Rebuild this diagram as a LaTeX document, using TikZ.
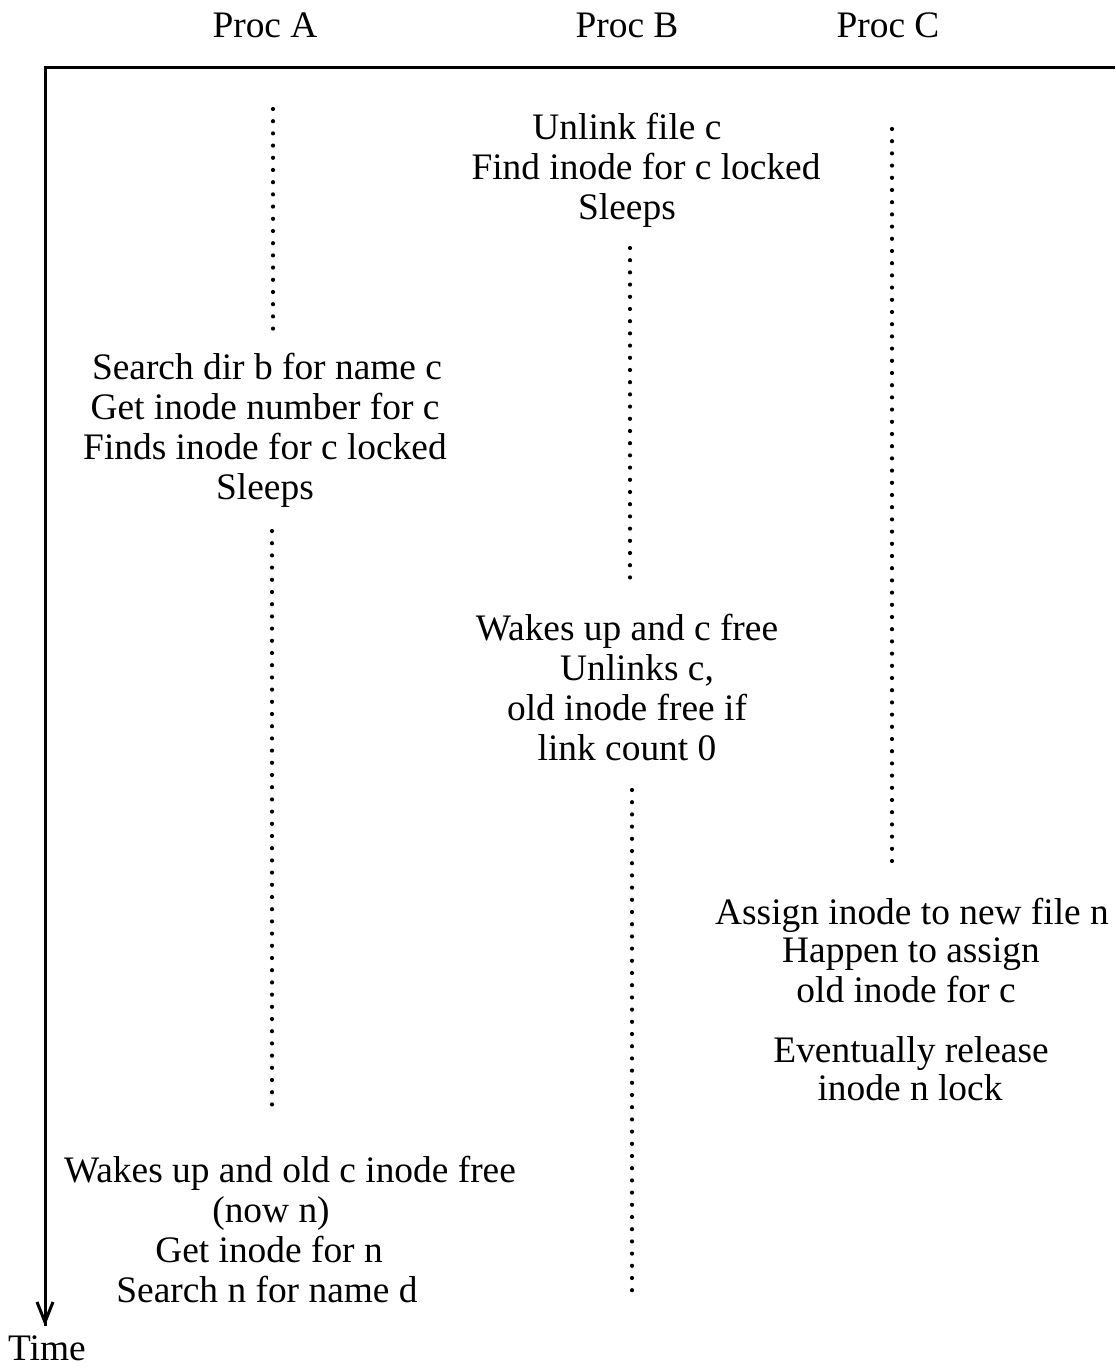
\documentclass[tikz,border=0pt]{standalone}
\usepackage{fontspec}
\setmainfont{Liberation Serif}
\usetikzlibrary{arrows.meta}
\begin{document}
\begin{tikzpicture}[x=0.5pt,y=-0.5pt,
  lbl/.style={font=\fontsize{18.7}{20}\selectfont, inner sep=0pt, text height=0.68em, text depth=0.2em, anchor=center, yshift=-4pt},
  axis/.style={line width=1.5pt},
  life/.style={line width=2.1pt, line cap=round, dash pattern=on 0pt off 6.1pt}]
\useasboundingbox (0,0) rectangle (1115,1368);
% headers
\node[lbl] (hA) at (265,25) {Proc A};
\node[lbl] (hB) at (627,25) {Proc B};
\node[lbl] (hC) at (888,25) {Proc C};
% axes
\coordinate (origin) at (45,68);
\coordinate (right) at (1115,68);
\coordinate (tip) at (45,1326);
\draw[axis] (right) -- (origin) -- (tip);
\draw[axis, -{Straight Barb[length=10pt,width=8pt,line width=1.5pt]}] (45,1290) -- (tip);
\node[lbl] (time) at (47,1348) {Time};
% lifelines
\coordinate (a1s) at (273,109); \coordinate (a1e) at (273,329);
\coordinate (b1s) at (630,248); \coordinate (b1e) at (630,589);
\coordinate (c1s) at (892,129); \coordinate (c1e) at (892,872);
\coordinate (a2s) at (272,531); \coordinate (a2e) at (272,1110);
\coordinate (b2s) at (632,790); \coordinate (b2e) at (632,1295);
\draw[life] (a1s) -- (a1e);
\draw[life] (b1s) -- (b1e);
\draw[life] (c1s) -- (c1e);
\draw[life] (a2s) -- (a2e);
\draw[life] (b2s) -- (b2e);
% Proc B first block
\node[lbl] (b11) at (627,127) {Unlink file c};
\node[lbl] (b12) at (646,167) {Find inode for c locked};
\node[lbl] (b13) at (627,207) {Sleeps};
% Proc A first block
\node[lbl] (a11) at (267,367) {Search dir b for name c};
\node[lbl] (a12) at (265,407) {Get inode number for c};
\node[lbl] (a13) at (265,447) {Finds inode for c locked};
\node[lbl] (a14) at (265,487) {Sleeps};
% Proc B second block
\node[lbl] (b21) at (627,628) {Wakes up and c free};
\node[lbl] (b22) at (637,668) {Unlinks c,};
\node[lbl] (b23) at (627,708) {old inode free if};
\node[lbl] (b24) at (627,748) {link count 0};
% Proc C block
\node[lbl] (c1) at (912,912) {Assign inode to new file n};
\node[lbl] (c2) at (911,950) {Happen to assign};
\node[lbl] (c3) at (906,990) {old inode for c};
\node[lbl] (c4) at (911,1050) {Eventually release};
\node[lbl] (c5) at (910,1088) {inode n lock};
% Proc A second block
\node[lbl] (a21) at (290,1170) {Wakes up and old c inode free};
\node[lbl] (a22) at (271,1210) {(now n)};
\node[lbl] (a23) at (269,1250) {Get inode for n};
\node[lbl] (a24) at (267,1290) {Search n for name d};
\end{tikzpicture}
\end{document}
